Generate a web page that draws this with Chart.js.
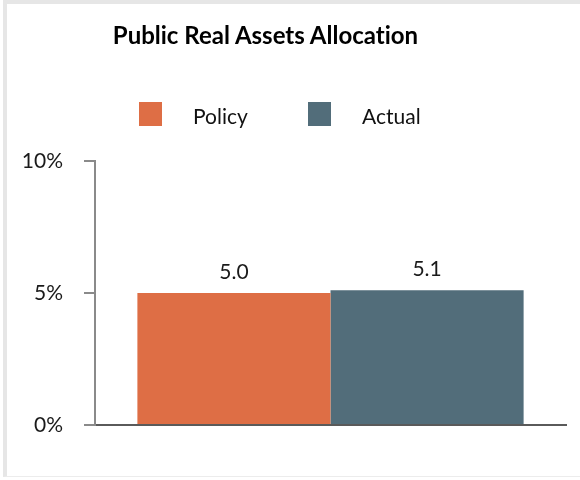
<!DOCTYPE html>
<html>
<head>
<meta charset="utf-8">
<script src="https://cdn.jsdelivr.net/npm/chart.js@4.4.1/dist/chart.umd.min.js"></script>
<style>
  html, body { margin: 0; padding: 0; background: #fff; }
  #wrap { position: relative; width: 580px; height: 480px; overflow: hidden; }
  #panel { position: absolute; left: 3px; top: 0; width: 600px; height: 477px;
           border-left: 4px solid #e6e6e6; border-top: 4px solid #e6e6e6; border-bottom: 1px solid #ececec;
           box-sizing: border-box; background: #fff; }
  #allocChart { position: absolute; left: 0; top: 0; }
  #title { position: absolute; left: 0; top: 20px; width: 531px; text-align: center; line-height: 29px;
           font-family: Lato, sans-serif; font-weight: bold; font-size: 24px; color: #000;
           font-variant-ligatures: none; }
  #legend { position: absolute; top: 102px; left: 0; width: 580px; height: 24px; font-family: Lato, sans-serif;
            font-size: 21px; color: #111; }
  .item { position: absolute; top: 0; height: 24px; line-height: 24px; }
  .swatch { position: absolute; left: 0; top: 0; width: 23px; height: 24px; }
  .label { position: absolute; left: 54px; top: 2px; white-space: nowrap; }
</style>
</head>
<body>
<div id="wrap">
  <div id="panel"></div>
  <canvas id="allocChart" width="580" height="480"></canvas>
  <div id="title">Public Real Assets Allocation</div>
  <div id="legend"></div>
</div>
<script>
var categories = ["Public Real Assets"];
var seriesNames = ["Policy", "Actual"];
var policyValues = [5.0];
var actualValues = [5.1];
var seriesColors = ["#de6e45", "#526d7a"];
var tickLabels = ["0%", "5%", "10%"];

// legend drawn as html so the gap between box and text can match
var legendLeft = [139, 308];
var legendEl = document.getElementById("legend");
seriesNames.forEach(function(name, i) {
  var item = document.createElement("div");
  item.className = "item";
  item.style.left = legendLeft[i] + "px";
  item.innerHTML = '<span class="swatch" style="background:' + seriesColors[i] + '"></span><span class="label">' + name + '</span>';
  legendEl.appendChild(item);
});

var barLabels = {
  id: "barLabels",
  afterDatasetsDraw: function(chart) {
    var ctx = chart.ctx;
    ctx.save();
    ctx.font = "21px Lato, sans-serif";
    ctx.fillStyle = "#1a1a1a";
    ctx.textAlign = "center";
    ctx.textBaseline = "middle";
    chart.data.datasets.forEach(function(ds, i) {
      chart.getDatasetMeta(i).data.forEach(function(bar, j) {
        ctx.fillText(ds.data[j].toFixed(1), bar.x, bar.y - 21);
      });
    });
    ctx.restore();
  }
};

var ctx = document.getElementById("allocChart").getContext("2d");
var myChart = new Chart(ctx, {
  type: "bar",
  data: {
    labels: categories,
    datasets: [
      { label: seriesNames[0], data: policyValues, backgroundColor: seriesColors[0] },
      { label: seriesNames[1], data: actualValues, backgroundColor: seriesColors[1] }
    ]
  },
  options: {
    responsive: false,
    animation: false,
    datasets: { bar: { categoryPercentage: 0.82, barPercentage: 1.0 } },
    layout: { padding: { left: 0, right: 14, top: 161, bottom: 47 } },
    plugins: {
      legend: { display: false },
      tooltip: { enabled: false },
      title: { display: false }
    },
    scales: {
      x: {
        ticks: { display: false },
        grid: { display: false },
        border: { display: true, color: "#5a5a5a", width: 2 }
      },
      y: {
        min: 0,
        max: 10,
        afterFit: function(scale) { scale.width = 95; },
        afterBuildTicks: function(scale) {
          scale.ticks = tickLabels.map(function(t) { return { value: parseFloat(t) }; });
        },
        ticks: {
          padding: 21,
          color: "#1a1a1a",
          font: { family: "Lato, sans-serif", size: 21 },
          callback: function(v) { return v + "%"; }
        },
        grid: { drawOnChartArea: false, drawTicks: true, tickLength: 11, color: "#8a8a8a", lineWidth: 2 },
        border: { display: true, color: "#8a8a8a", width: 2 }
      }
    }
  },
  plugins: [barLabels]
});
</script>
</body>
</html>
